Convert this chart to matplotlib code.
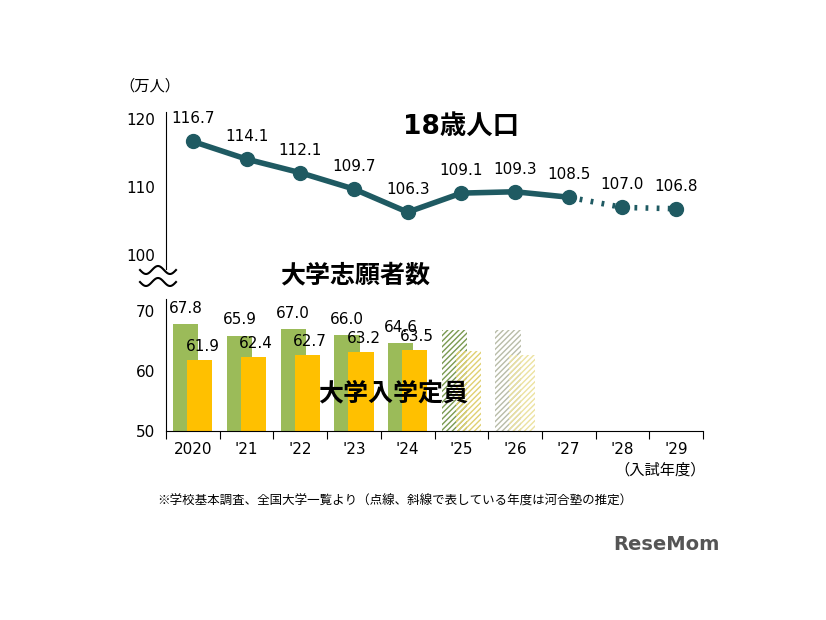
import matplotlib
matplotlib.use("Agg")
import matplotlib.pyplot as plt
import numpy as np

plt.rcParams['font.family'] = ['DejaVu Sans', 'Noto Sans CJK JP']
plt.rcParams['hatch.linewidth'] = 1.0

cats = ["2020", "'21", "'22", "'23", "'24", "'25", "'26", "'27", "'28", "'29"]
pop = [116.7, 114.1, 112.1, 109.7, 106.3, 109.1, 109.3, 108.5, 107.0, 106.8]
applicants = [67.8, 65.9, 67.0, 66.0, 64.6, 66.9, 66.9]
capacity = [61.9, 62.4, 62.7, 63.2, 63.5, 63.3, 62.7]
n_actual = 5

W, H = 826, 620
fig = plt.figure(figsize=(W/100, H/100), dpi=100)
def ax_rect(x0, x1, ytop, ybot):
    return [x0/W, 1-ybot/H, (x1-x0)/W, (ybot-ytop)/H]

ppu = 6.8
top_ybot = 255 + 2*ppu
top_ytop = 255 - 21*ppu
axt = fig.add_axes(ax_rect(166, 703, top_ytop, top_ybot))
axt.set_ylim(98, 121)
axt.set_xlim(-0.5, 9.5)
x = np.arange(len(cats))
dark = '#1f5a62'
axt.plot(x[:8], pop[:8], color=dark, lw=4, marker='o', ms=10, zorder=3)
axt.plot(x[7:], pop[7:], color=dark, lw=4, ls=(0, (0.5, 1.5)), marker='o', ms=10,
         markevery=[1, 2], zorder=3)
for i, v in enumerate(pop):
    axt.text(i, v + 2.2, f"{v:.1f}", ha='center', va='bottom', fontsize=11)
axt.set_yticks([100, 110, 120])
axt.set_xticks([])
for s in ['top', 'right', 'bottom']:
    axt.spines[s].set_visible(False)
axt.tick_params(axis='y', length=0, labelsize=11, pad=8)
fig.text(150/W, 1-86/H, "（万人）", ha='center', va='center', fontsize=11)
axt.text(5.0, 118.8, "18歳人口", fontsize=19, fontweight='bold', ha='center', va='center')
axt.patch.set_alpha(0)

ppb = 6.0
axb = fig.add_axes(ax_rect(166, 703, 431-22*ppb, 431))
axb.set_ylim(50, 72)
axb.set_xlim(-0.5, 9.5)
green, yellow = '#9bbb59', '#ffc000'
bw = 0.47
off = 0.13
for i in range(len(applicants)):
    if i < n_actual:
        axb.bar(i-off, applicants[i], bw, bottom=0, color=green, zorder=2)
        axb.bar(i+off, capacity[i], bw, bottom=0, color=yellow, zorder=2)
        axb.text(i-off, applicants[i]+1.4, f"{applicants[i]:.1f}", ha='center', va='bottom', fontsize=11, zorder=4)
        axb.text(i+off+0.05, capacity[i]+1.0, f"{capacity[i]:.1f}", ha='center', va='bottom', fontsize=11, zorder=4)
    else:
        gc = '#7a9a50' if i == 5 else '#b8bca8'
        yc = '#e0d070' if i == 5 else '#ece2a0'
        axb.bar(i-off, applicants[i], bw, color='none', edgecolor=gc, hatch='//////', lw=0, zorder=2)
        axb.bar(i+off, capacity[i], bw, color='none', edgecolor=yc, hatch='//////', lw=0, zorder=2)
axb.set_yticks([50, 60, 70])
axb.set_xticks(np.arange(-0.5, 10, 1), minor=False, labels=[''] * 11)
axb.set_xticks(x, minor=True, labels=cats)
axb.tick_params(axis='x', which='major', length=6, direction='out')
axb.tick_params(axis='x', which='minor', length=0, labelsize=11, pad=8)
axb.tick_params(axis='y', length=0, labelsize=11, pad=8)
for s in ['top', 'right']:
    axb.spines[s].set_visible(False)
axb.patch.set_alpha(0)
fig.text(355/W, 1-275/H, "大学志願者数", fontsize=18, fontweight='bold', ha='center', va='center', family='Noto Sans CJK JP')
fig.text(393/W, 1-393/H, "大学入学定員", fontsize=18, fontweight='bold', ha='center', va='center', family='Noto Sans CJK JP', zorder=5)
fig.text(660/W, 1-470/H, "（入試年度）", fontsize=11, ha='center', va='center', family='Noto Sans CJK JP')

t = np.linspace(0, 1, 60)
for yy in [270, 282]:
    xs = 140 + 36*t
    ys = yy + 4*np.sin(t*2*np.pi*1.5)
    fig.add_artist(plt.Line2D(xs/W, 1-ys/H, color='black', lw=1.5))

fig.text(395/W, 1-501/H, "※学校基本調査、全国大学一覧より（点線、斜線で表している年度は河合塾の推定）",
         ha='center', va='center', fontsize=9, family='Noto Sans CJK JP')
fig.text(720/W, 1-545/H, "ReseMom", ha='right', va='center', fontsize=14, fontweight='bold', color='#555555')

fig.savefig("out.png", dpi=100)
